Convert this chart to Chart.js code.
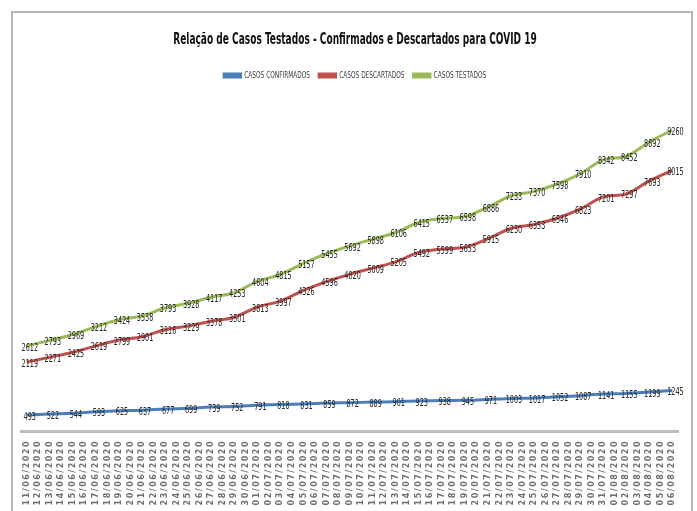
<!DOCTYPE html>
<html>
<head>
<meta charset="utf-8">
<script src="https://cdn.jsdelivr.net/npm/chart.js@4.4.1/dist/chart.umd.min.js"></script>
<style>
  html, body { margin: 0; padding: 0; background: #fff; overflow: hidden; }
  #frame {
    position: absolute; left: 11px; top: 11px;
    width: 678px; height: 540px;
    border: 2px solid #b4b4b4;
  }
</style>
</head>
<body>
<div id="frame"><canvas id="covidChart" width="678" height="498"></canvas></div>
<script>
/* Category labels: one per day on the axis */
var dates = [
  '11/06/2020', '12/06/2020', '13/06/2020', '14/06/2020', '15/06/2020', '16/06/2020',
  '17/06/2020', '18/06/2020', '19/06/2020', '20/06/2020', '21/06/2020', '22/06/2020',
  '23/06/2020', '24/06/2020', '25/06/2020', '26/06/2020', '27/06/2020', '28/06/2020',
  '29/06/2020', '30/06/2020', '01/07/2020', '02/07/2020', '03/07/2020', '04/07/2020',
  '05/07/2020', '06/07/2020', '07/07/2020', '08/07/2020', '09/07/2020', '10/07/2020',
  '11/07/2020', '12/07/2020', '13/07/2020', '14/07/2020', '15/07/2020', '16/07/2020',
  '17/07/2020', '18/07/2020', '19/07/2020', '20/07/2020', '21/07/2020', '22/07/2020',
  '23/07/2020', '24/07/2020', '25/07/2020', '26/07/2020', '27/07/2020', '28/07/2020',
  '29/07/2020', '30/07/2020', '31/07/2020', '01/08/2020', '02/08/2020', '03/08/2020',
  '04/08/2020', '05/08/2020', '06/08/2020'
];

/* Series values: one reading every two days, starting 11/06/2020 */
var confirmados = [493, 522, 544, 593, 625, 637, 677, 699, 739, 752, 791, 818, 831, 859, 872,
  889, 901, 923, 938, 945, 971, 1003, 1017, 1052, 1087, 1141, 1155, 1199, 1245];
var descartados = [2119, 2271, 2425, 2619, 2799, 2901, 3116, 3229, 3378, 3501, 3813, 3997, 4326,
  4596, 4820, 5009, 5205, 5492, 5599, 5653, 5915, 6230, 6353, 6546, 6823, 7201, 7297, 7693, 8015];
var testados = [2612, 2793, 2969, 3212, 3424, 3538, 3793, 3928, 4117, 4253, 4604, 4815, 5157,
  5455, 5692, 5898, 6106, 6415, 6537, 6598, 6886, 7233, 7370, 7598, 7910, 8342, 8452, 8892, 9260];

var seriesNames = ['CASOS CONFIRMADOS', 'CASOS DESCARTADOS', 'CASOS TESTADOS'];

var FONT = '"DejaVu Sans Condensed", "DejaVu Sans", sans-serif';
var SQUASH = 0.72;   // the original's text is tall and narrow

/* Pair each reading with its date on the category axis */
function toPoints(values) {
  return values.map(function(v, i) {
    return { x: dates[i * 2], y: v };
  });
}

/* Draws the value of every point on top of the line */
var valueLabels = {
  id: 'valueLabels',
  afterDatasetsDraw: function(chart) {
    var ctx = chart.ctx;
    ctx.save();
    ctx.font = '10px ' + FONT;
    ctx.fillStyle = '#262626';
    ctx.textAlign = 'center';
    ctx.textBaseline = 'middle';
    chart.data.datasets.forEach(function(ds, di) {
      chart.getDatasetMeta(di).data.forEach(function(el, i) {
        ctx.save();
        ctx.translate(el.x + 3, el.y + 2);
        ctx.scale(SQUASH, 1);
        ctx.fillText(String(ds.data[i].y), 0, 0);
        ctx.restore();
      });
    });
    ctx.restore();
  }
};

/* Narrow the title and legend around their centre */
function squashBox(chart, box, factor) {
  if (!box || box._squashed) return;
  var orig = box.draw;
  box.draw = function() {
    var c = chart.ctx;
    var cx = this.left + this.width / 2;
    c.save();
    c.translate(cx, 0);
    c.scale(factor, 1);
    c.translate(-cx, 0);
    orig.apply(this, arguments);
    c.restore();
  };
  box._squashed = true;
}

/* Spread the letters of the date labels a little, like the original */
function spaceDates(chart) {
  var sx = chart.scales.x;
  if (sx._spaced) return;
  var orig = sx.drawLabels;
  sx.drawLabels = function(area) {
    chart.ctx.save();
    chart.ctx.letterSpacing = '1.5px';
    orig.call(this, area);
    chart.ctx.restore();
  };
  sx._spaced = true;
}

var textTweaks = {
  id: 'textTweaks',
  afterUpdate: function(chart) {
    squashBox(chart, chart.titleBlock, 0.67);
    squashBox(chart, chart.legend, SQUASH);
    spaceDates(chart);
  }
};

function makeDataset(label, values, color) {
  return {
    label: label,
    data: toPoints(values),
    borderColor: color,
    backgroundColor: color,
    borderWidth: 3,
    pointRadius: 0,
    tension: 0.35,
    fill: false
  };
}

var ctx = document.getElementById('covidChart').getContext('2d');
var covidChart = new Chart(ctx, {
  type: 'line',
  data: {
    labels: dates,
    datasets: [
      makeDataset(seriesNames[0], confirmados, '#4a7ebb'),
      makeDataset(seriesNames[1], descartados, '#c0504d'),
      makeDataset(seriesNames[2], testados, '#9bbb59')
    ]
  },
  options: {
    responsive: false,
    animation: false,
    layout: { padding: { left: 8, right: 2, top: 0, bottom: 0 } },
    plugins: {
      title: {
        display: true,
        text: 'Relação de Casos Testados - Confirmados e Descartados para COVID 19',
        color: '#111',
        font: { family: FONT, size: 15, weight: 'bold' },
        padding: { top: 18, bottom: 10 }
      },
      legend: {
        display: true,
        labels: {
          color: '#404040',
          boxWidth: 24,
          boxHeight: 3,
          padding: 12,
          font: { family: FONT, size: 9 }
        }
      },
      tooltip: { enabled: false }
    },
    scales: {
      x: {
        offset: true,
        afterFit: function(scale) { scale.height = 80; },
        grid: { display: false, drawTicks: false },
        border: { display: true, color: '#bdbdbd', width: 3 },
        ticks: {
          autoSkip: false,
          minRotation: 90,
          maxRotation: 90,
          padding: 9,
          color: '#6e6e6e',
          font: { family: '"DejaVu Sans", sans-serif', size: 8, weight: 'bold' }
        }
      },
      y: {
        display: false,
        min: 0,
        max: 10490
      }
    }
  },
  plugins: [valueLabels, textTweaks]
});
</script>
</body>
</html>
